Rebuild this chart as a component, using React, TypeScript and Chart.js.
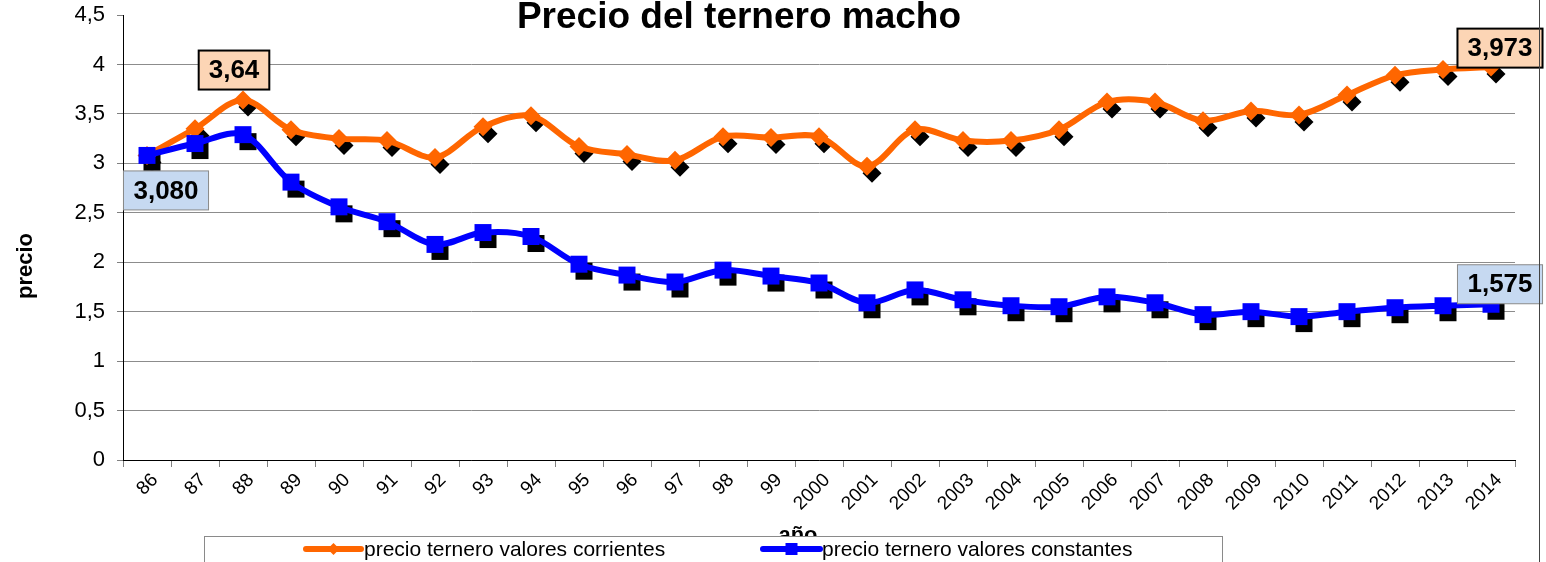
import React, { useEffect, useRef } from 'react';
import { Chart, registerables } from 'chart.js';

Chart.register(...registerables);

const years = ['86', '87', '88', '89', '90', '91', '92', '93', '94', '95', '96', '97', '98', '99', '2000', '2001', '2002', '2003', '2004', '2005', '2006', '2007', '2008', '2009', '2010', '2011', '2012', '2013', '2014'];

const corrientes = [3.08, 3.35, 3.64, 3.34, 3.25, 3.23, 3.06, 3.37, 3.48, 3.17, 3.09, 3.03, 3.27, 3.26, 3.27, 2.97, 3.34, 3.23, 3.23, 3.34, 3.62, 3.62, 3.43, 3.53, 3.49, 3.69, 3.89, 3.95, 3.973];

const constantes = [3.08, 3.20, 3.29, 2.81, 2.56, 2.41, 2.18, 2.30, 2.26, 1.98, 1.87, 1.80, 1.92, 1.86, 1.79, 1.59, 1.72, 1.62, 1.56, 1.55, 1.65, 1.59, 1.47, 1.50, 1.45, 1.50, 1.54, 1.56, 1.575];

const seriesNames = ['precio ternero valores corrientes', 'precio ternero valores constantes'];
const yMin = 0;
const yMax = 4.5;
const yStep = 0.5;

const titleText = 'Precio del ternero macho';
const yTitle = 'precio';
const xTitle = 'año';

// callouts: series index, point index, decimals
const callouts = [
  { series: 0, index: 2, decimals: 2, dx: -9, dy: -30, fill: '#FCD5B5', stroke: '#000000', lw: 2 },
  { series: 0, index: 28, decimals: 3, dx: 9, dy: -19, fill: '#FCD5B5', stroke: '#000000', lw: 2 },
  { series: 1, index: 0, decimals: 3, dx: 19, dy: 35, fill: '#C6D9F1', stroke: '#8a8a8a', lw: 1 },
  { series: 1, index: 28, decimals: 3, dx: 9, dy: -20, fill: '#C6D9F1', stroke: '#8a8a8a', lw: 1 },
];

const FONT = '"Liberation Sans", Arial, sans-serif';
const ORANGE = '#FF6600';
const BLUE = '#0000FF';

function diamond(ctx: CanvasRenderingContext2D, x: number, y: number, r: number) {
  ctx.beginPath();
  ctx.moveTo(x, y - r);
  ctx.lineTo(x + r, y);
  ctx.lineTo(x, y + r);
  ctx.lineTo(x - r, y);
  ctx.closePath();
  ctx.fill();
}
function square(ctx: CanvasRenderingContext2D, x: number, y: number, h: number) {
  ctx.fillRect(x - h, y - h, 2 * h, 2 * h);
}

const shadowPlugin = {
  id: 'markerShadow',
  beforeDatasetsDraw(chart: any) {
    const ctx = chart.ctx as CanvasRenderingContext2D;
    ctx.save();
    ctx.fillStyle = '#000';
    chart.data.datasets.forEach((ds: any, i: number) => {
      const meta = chart.getDatasetMeta(i);
      meta.data.forEach((pt: any) => {
        if (ds.pointStyle === 'rectRot') diamond(ctx, pt.x + 5, pt.y + 7, 9.5);
        else square(ctx, pt.x + 5, pt.y + 7, 8.5);
      });
    });
    ctx.restore();
  },
};

const decorPlugin = {
  id: 'decor',
  afterDraw(chart: any) {
    const ctx = chart.ctx as CanvasRenderingContext2D;
    ctx.save();
    // title
    ctx.fillStyle = '#000';
    ctx.font = `bold 37px ${FONT}`;
    ctx.textAlign = 'center';
    ctx.textBaseline = 'alphabetic';
    ctx.fillText(titleText, 739, 28);

    // y title
    ctx.save();
    ctx.translate(26, 266);
    ctx.rotate(-Math.PI / 2);
    ctx.font = `bold 22px ${FONT}`;
    ctx.textAlign = 'center';
    ctx.textBaseline = 'middle';
    ctx.fillText(yTitle, 0, 0);
    ctx.restore();

    // x title (partially hidden by legend)
    ctx.font = `bold 22px ${FONT}`;
    ctx.textAlign = 'center';
    ctx.textBaseline = 'alphabetic';
    ctx.fillText(xTitle, 798, 542);

    // legend box
    ctx.fillStyle = '#fff';
    ctx.fillRect(204, 536, 1018, 40);
    ctx.strokeStyle = '#8a8a8a';
    ctx.lineWidth = 1;
    ctx.strokeRect(204.5, 536.5, 1018, 40);

    const items = [
      { x0: 306, x1: 361, tx: 364 },
      { x0: 763, x1: 820, tx: 822 },
    ];
    chart.data.datasets.forEach((ds: any, i: number) => {
      const it = items[i];
      const y = 549;
      ctx.strokeStyle = ds.borderColor;
      ctx.lineWidth = 6;
      ctx.lineCap = 'round';
      ctx.beginPath();
      ctx.moveTo(it.x0, y);
      ctx.lineTo(it.x1, y);
      ctx.stroke();
      ctx.fillStyle = ds.borderColor;
      const cx = (it.x0 + it.x1) / 2;
      if (ds.pointStyle === 'rectRot') diamond(ctx, cx, y, 6);
      else square(ctx, cx, y, 6);
      ctx.fillStyle = '#000';
      ctx.font = `21px ${FONT}`;
      ctx.textAlign = 'left';
      ctx.textBaseline = 'middle';
      ctx.fillText(ds.label, it.tx, y + 1);
    });

    // callouts
    callouts.forEach((c) => {
      const meta = chart.getDatasetMeta(c.series);
      const pt = meta.data[c.index];
      const val = chart.data.datasets[c.series].data[c.index] as number;
      const txt = val.toFixed(c.decimals).replace('.', ',');
      ctx.font = `bold 26px ${FONT}`;
      const w = ctx.measureText(txt).width + 20;
      const h = 39;
      const cx = pt.x + c.dx;
      const cy = pt.y + c.dy;
      ctx.fillStyle = c.fill;
      ctx.fillRect(cx - w / 2, cy - h / 2, w, h);
      ctx.strokeStyle = c.stroke;
      ctx.lineWidth = c.lw;
      ctx.strokeRect(cx - w / 2, cy - h / 2, w, h);
      ctx.fillStyle = '#000';
      ctx.textAlign = 'center';
      ctx.textBaseline = 'middle';
      ctx.fillText(txt, cx, cy + 1);
    });

    // right chart border
    ctx.strokeStyle = '#444';
    ctx.lineWidth = 1;
    ctx.beginPath();
    ctx.moveTo(1539.5, 0);
    ctx.lineTo(1539.5, 562);
    ctx.stroke();
    ctx.restore();
  },
};

export default function App() {
  const ref = useRef<HTMLCanvasElement>(null);
  useEffect(() => {
    if (!ref.current) return;
    const chart = new Chart(ref.current, {
      type: 'line',
      data: {
        labels: years,
        datasets: [
          {
            label: seriesNames[0],
            data: corrientes,
            borderColor: ORANGE,
            backgroundColor: ORANGE,
            borderWidth: 6,
            tension: 0.33,
            pointStyle: 'rectRot',
            pointRadius: 9.5,
            pointBorderWidth: 0,
            pointBackgroundColor: ORANGE,
            order: 1,
            fill: false,
            borderJoinStyle: 'round',
            borderCapStyle: 'round',
          },
          {
            label: seriesNames[1],
            data: constantes,
            borderColor: BLUE,
            backgroundColor: BLUE,
            borderWidth: 6,
            tension: 0.33,
            pointStyle: 'rect',
            pointRadius: 12,
            pointBorderWidth: 0,
            pointBackgroundColor: BLUE,
            order: 0,
            fill: false,
            borderJoinStyle: 'round',
            borderCapStyle: 'round',
          },
        ],
      },
      options: {
        responsive: false,
        animation: false,
        devicePixelRatio: 1,
        layout: { padding: { left: 0, top: 15, right: 31, bottom: 0 } },
        plugins: {
          legend: { display: false },
          title: { display: false },
          tooltip: { enabled: false },
        },
        scales: {
          x: {
            type: 'category',
            offset: true,
            grid: {
              offset: true,
              drawOnChartArea: false,
              drawTicks: true,
              tickLength: 7,
              tickColor: '#808080',
            },
            border: { display: true, color: '#000', width: 1 },
            ticks: {
              color: '#000',
              font: { family: FONT, size: 19 },
              minRotation: 45,
              maxRotation: 45,
              autoSkip: false,
              padding: 2,
              labelOffset: 8,
            },
            afterFit(scale: any) {
              scale.height = 102;
              scale.paddingLeft = 0;
              scale.paddingRight = 0;
            },
          },
          y: {
            min: yMin,
            max: yMax,
            grid: {
              color: (c: any) => (c.tick && c.tick.value === yMax ? 'rgba(0,0,0,0)' : '#8c8c8c'),
              tickLength: 6,
              tickColor: '#808080',
            },
            border: { display: true, color: '#000', width: 1 },
            ticks: {
              stepSize: yStep,
              color: '#000',
              font: { family: FONT, size: 22 },
              padding: 12,
              callback: (v: any) => String(v).replace('.', ','),
            },
            afterFit(scale: any) {
              scale.width = 123;
              scale.paddingTop = 0;
              scale.paddingBottom = 0;
            },
          },
        },
      },
      plugins: [shadowPlugin, decorPlugin],
    } as any);
    return () => chart.destroy();
  }, []);
  return (
    <div style={{ position: 'absolute', left: 0, top: 0, width: 1546, height: 562, background: '#fff' }}>
      <canvas ref={ref} width={1546} height={562} style={{ display: 'block' }} />
    </div>
  );
}
